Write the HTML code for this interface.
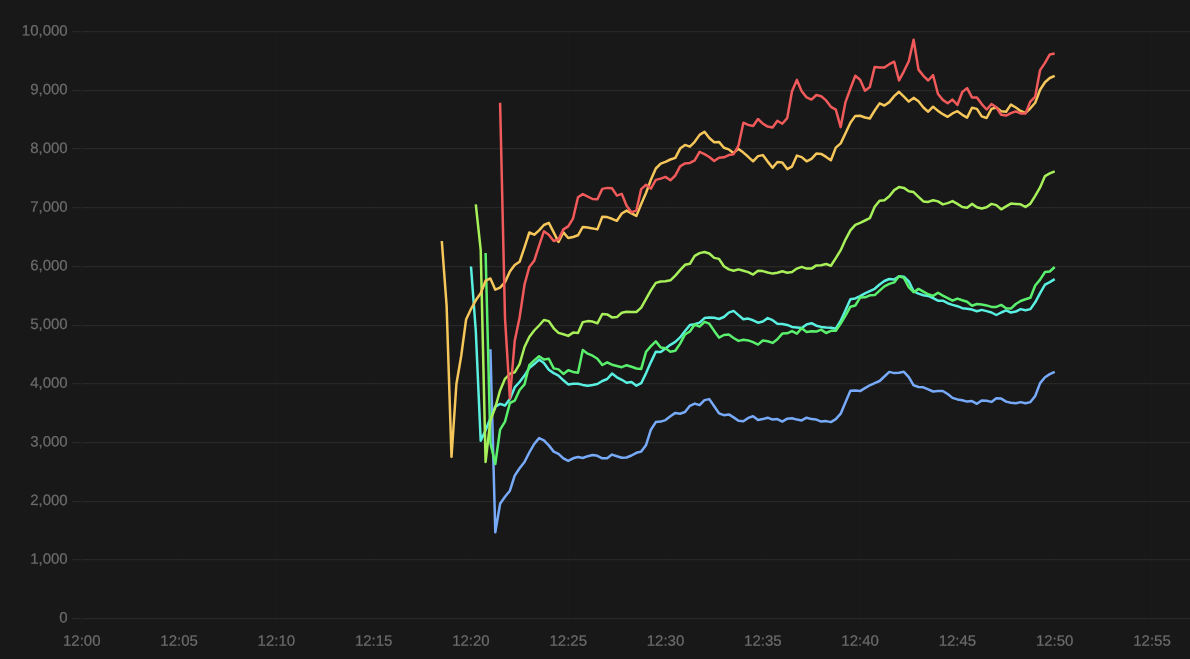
<!DOCTYPE html>
<html lang="en"><head><meta charset="utf-8"><title>Chart</title>
<style>html,body{margin:0;padding:0;background:#181818;overflow:hidden}svg{display:block}text{font-family:"Liberation Sans",Arial,Helvetica,sans-serif;font-size:15px;fill:#6c6c6c;stroke:#6c6c6c;stroke-width:0.22px;text-rendering:geometricPrecision}.s{fill:none;stroke-width:2.5;stroke-linejoin:round;stroke-linecap:butt}</style></head><body>
<svg width="1190" height="659" viewBox="0 0 1190 659">
<rect width="1190" height="659" fill="#181818"/>
<g fill="#1a1a1a">
<rect x="178" y="31" width="1.25" height="597.25"/>
<rect x="276" y="31" width="1.25" height="597.25"/>
<rect x="373" y="31" width="1.25" height="597.25"/>
<rect x="470" y="31" width="1.25" height="597.25"/>
<rect x="568" y="31" width="1.25" height="597.25"/>
<rect x="665" y="31" width="1.25" height="597.25"/>
<rect x="762" y="31" width="1.25" height="597.25"/>
<rect x="859" y="31" width="1.25" height="597.25"/>
<rect x="957" y="31" width="1.25" height="597.25"/>
<rect x="1054" y="31" width="1.25" height="597.25"/>
<rect x="1151" y="31" width="1.25" height="597.25"/>
</g>
<g fill="#282828">
<rect x="72" y="31" width="1118" height="1.2"/>
<rect x="72" y="90" width="1118" height="1.2"/>
<rect x="72" y="148" width="1118" height="1.2"/>
<rect x="72" y="207" width="1118" height="1.2"/>
<rect x="72" y="266" width="1118" height="1.2"/>
<rect x="72" y="325" width="1118" height="1.2"/>
<rect x="72" y="383" width="1118" height="1.2"/>
<rect x="72" y="442" width="1118" height="1.2"/>
<rect x="72" y="501" width="1118" height="1.2"/>
<rect x="72" y="559" width="1118" height="1.2"/>
<rect x="72" y="618" width="1118" height="1.2"/>
</g>
<rect x="81" y="31" width="1.25" height="597.25" fill="#1a1a1a"/>
<g fill="#161616">
<rect x="81" y="31" width="1" height="1.25"/>
<rect x="81" y="90" width="1" height="1.25"/>
<rect x="81" y="148" width="1" height="1.25"/>
<rect x="81" y="207" width="1" height="1.25"/>
<rect x="81" y="266" width="1" height="1.25"/>
<rect x="81" y="325" width="1" height="1.25"/>
<rect x="81" y="383" width="1" height="1.25"/>
<rect x="81" y="442" width="1" height="1.25"/>
<rect x="81" y="501" width="1" height="1.25"/>
<rect x="81" y="559" width="1" height="1.25"/>
<rect x="81" y="618" width="1" height="1.25"/>
</g>
<g text-anchor="end">
<text x="67.70" y="35.65" transform="rotate(0.1 67.70 35.65)">10,000</text>
<text x="67.70" y="94.34" transform="rotate(0.1 67.70 94.34)">9,000</text>
<text x="67.70" y="153.03" transform="rotate(0.1 67.70 153.03)">8,000</text>
<text x="67.70" y="211.72" transform="rotate(0.1 67.70 211.72)">7,000</text>
<text x="67.70" y="270.41" transform="rotate(0.1 67.70 270.41)">6,000</text>
<text x="67.70" y="329.10" transform="rotate(0.1 67.70 329.10)">5,000</text>
<text x="67.70" y="387.79" transform="rotate(0.1 67.70 387.79)">4,000</text>
<text x="67.70" y="446.48" transform="rotate(0.1 67.70 446.48)">3,000</text>
<text x="67.70" y="505.17" transform="rotate(0.1 67.70 505.17)">2,000</text>
<text x="67.70" y="563.86" transform="rotate(0.1 67.70 563.86)">1,000</text>
<text x="67.70" y="622.55" transform="rotate(0.1 67.70 622.55)">0</text>
</g>
<g text-anchor="middle">
<text x="81.80" y="645.70" transform="rotate(0.1 81.80 645.70)">12:00</text>
<text x="179.09" y="645.70" transform="rotate(0.1 179.09 645.70)">12:05</text>
<text x="276.38" y="645.70" transform="rotate(0.1 276.38 645.70)">12:10</text>
<text x="373.67" y="645.70" transform="rotate(0.1 373.67 645.70)">12:15</text>
<text x="470.96" y="645.70" transform="rotate(0.1 470.96 645.70)">12:20</text>
<text x="568.25" y="645.70" transform="rotate(0.1 568.25 645.70)">12:25</text>
<text x="665.54" y="645.70" transform="rotate(0.1 665.54 645.70)">12:30</text>
<text x="762.83" y="645.70" transform="rotate(0.1 762.83 645.70)">12:35</text>
<text x="860.12" y="645.70" transform="rotate(0.1 860.12 645.70)">12:40</text>
<text x="957.41" y="645.70" transform="rotate(0.1 957.41 645.70)">12:45</text>
<text x="1054.70" y="645.70" transform="rotate(0.1 1054.70 645.70)">12:50</text>
<text x="1151.99" y="645.70" transform="rotate(0.1 1151.99 645.70)">12:55</text>
</g>
<polyline class="s" stroke="#78aafa" points="490.4,349.3 495.3,532.3 500.1,503.8 505.0,496.8 509.9,490.7 514.7,475.6 519.6,468.2 524.5,462.0 529.3,452.5 534.2,444.0 539.1,438.1 543.9,440.3 548.8,445.4 553.7,451.6 558.5,453.8 563.4,458.3 568.2,460.9 573.1,458.3 578.0,457.0 582.8,458.0 587.7,456.2 592.6,455.0 597.4,455.8 602.3,458.3 607.2,458.3 612.0,454.6 616.9,456.3 621.8,457.8 626.6,457.5 631.5,455.5 636.4,452.8 641.2,451.6 646.1,444.9 650.9,429.7 655.8,422.1 660.7,421.6 665.5,420.1 670.4,416.2 675.3,412.9 680.1,413.7 685.0,412.0 689.9,405.8 694.7,403.6 699.6,405.1 704.5,400.1 709.3,399.1 714.2,406.3 719.0,413.3 723.9,415.2 728.8,414.4 733.6,417.4 738.5,420.8 743.4,421.3 748.2,417.9 753.1,416.2 758.0,419.9 762.8,419.1 767.7,417.7 772.6,419.6 777.4,419.1 782.3,421.6 787.2,418.7 792.0,418.2 796.9,419.6 801.7,420.4 806.6,417.7 811.5,419.1 816.3,419.6 821.2,421.6 826.1,421.1 830.9,422.1 835.8,419.1 840.7,413.7 845.5,402.2 850.4,390.8 855.3,390.4 860.1,391.1 865.0,388.2 869.8,385.3 874.7,383.2 879.6,381.0 884.4,376.5 889.3,371.9 894.2,373.1 899.0,372.7 903.9,371.8 908.8,377.2 913.6,385.3 918.5,387.0 923.4,387.3 928.2,389.3 933.1,391.5 938.0,391.0 942.8,391.0 947.7,394.0 952.5,397.9 957.4,399.4 962.3,400.3 967.1,401.6 972.0,401.1 976.9,403.8 981.7,400.4 986.6,400.8 991.5,401.9 996.3,398.2 1001.2,398.6 1006.1,401.6 1010.9,402.8 1015.8,403.3 1020.6,402.1 1025.5,403.3 1030.4,402.1 1035.2,396.0 1040.1,383.1 1045.0,377.2 1049.8,374.1 1054.7,371.8"/>
<polyline class="s" stroke="#5af0e1" points="471.0,266.5 475.8,331.0 480.7,440.7 485.6,430.3 490.4,418.2 495.3,406.6 500.1,403.9 505.0,405.5 509.9,399.0 514.7,387.4 519.6,382.0 524.5,375.6 529.3,368.0 534.2,364.1 539.1,359.6 543.9,363.0 548.8,369.7 553.7,373.1 558.5,375.6 563.4,380.3 568.2,384.4 573.1,383.7 578.0,383.7 582.8,384.9 587.7,385.7 592.6,384.9 597.4,384.0 602.3,381.0 607.2,379.0 612.0,373.6 616.9,377.3 621.8,379.8 626.6,382.8 631.5,382.0 636.4,385.7 641.2,383.2 646.1,373.1 650.9,362.1 655.8,351.7 660.7,352.0 665.5,348.6 670.4,344.8 675.3,341.9 680.1,337.4 685.0,331.0 689.9,325.1 694.7,324.2 699.6,322.6 704.5,318.1 709.3,317.6 714.2,317.8 719.0,319.0 723.9,317.0 728.8,312.6 733.6,310.9 738.5,315.1 743.4,319.3 748.2,318.6 753.1,320.3 758.0,322.7 762.8,321.5 767.7,318.1 772.6,320.2 777.4,323.7 782.3,324.0 787.2,324.9 792.0,326.9 796.9,327.4 801.7,327.9 806.6,324.4 811.5,323.2 816.3,325.7 821.2,326.9 826.1,327.4 830.9,327.7 835.8,328.7 840.7,320.7 845.5,310.2 850.4,299.3 855.3,298.4 860.1,296.2 865.0,293.3 869.8,291.1 874.7,288.8 879.6,284.5 884.4,281.0 889.3,279.0 894.2,279.5 899.0,276.3 903.9,276.7 908.8,281.3 913.6,291.4 918.5,293.6 923.4,295.3 928.2,295.9 933.1,298.1 938.0,300.7 942.8,300.7 947.7,303.2 952.5,304.9 957.4,306.2 962.3,308.2 967.1,308.7 972.0,309.6 976.9,311.3 981.7,309.9 986.6,311.1 991.5,312.5 996.3,315.0 1001.2,312.5 1006.1,310.4 1010.9,312.5 1015.8,311.6 1020.6,309.1 1025.5,310.3 1030.4,309.1 1035.2,302.3 1040.1,293.1 1045.0,284.7 1049.8,282.1 1054.7,279.1"/>
<polyline class="s" stroke="#5af06e" points="485.6,253.0 490.4,443.0 495.3,464.0 500.1,429.7 505.0,421.7 509.9,403.0 514.7,400.7 519.6,390.0 524.5,384.4 529.3,365.2 534.2,360.4 539.1,356.2 543.9,359.6 548.8,358.8 553.7,368.4 558.5,369.4 563.4,373.9 568.2,370.2 573.1,371.9 578.0,372.7 582.8,350.0 587.7,353.7 592.6,355.7 597.4,358.8 602.3,365.0 607.2,362.3 612.0,364.7 616.9,366.0 621.8,367.2 626.6,365.2 631.5,366.8 636.4,368.5 641.2,368.9 646.1,351.7 650.9,346.1 655.8,341.4 660.7,347.5 665.5,348.3 670.4,351.7 675.3,350.8 680.1,343.6 685.0,334.3 689.9,331.5 694.7,324.5 699.6,326.6 704.5,321.8 709.3,323.7 714.2,330.9 719.0,337.6 723.9,335.0 728.8,334.5 733.6,338.0 738.5,340.9 743.4,339.7 748.2,340.4 753.1,342.2 758.0,344.6 762.8,340.5 767.7,341.2 772.6,342.9 777.4,339.2 782.3,333.6 787.2,333.3 792.0,331.1 796.9,333.6 801.7,328.2 806.6,331.9 811.5,331.3 816.3,331.6 821.2,329.6 826.1,333.0 830.9,330.8 835.8,330.8 840.7,323.5 845.5,315.6 850.4,306.7 855.3,305.5 860.1,297.6 865.0,297.3 869.8,295.3 874.7,295.1 879.6,290.6 884.4,286.4 889.3,283.9 894.2,282.4 899.0,276.3 903.9,277.9 908.8,287.2 913.6,292.2 918.5,288.9 923.4,291.7 928.2,294.3 933.1,295.9 938.0,292.7 942.8,295.6 947.7,298.1 952.5,300.7 957.4,298.6 962.3,300.3 967.1,301.8 972.0,305.7 976.9,304.0 981.7,304.5 986.6,305.4 991.5,306.9 996.3,306.9 1001.2,304.9 1006.1,308.2 1010.9,308.6 1015.8,304.0 1020.6,301.0 1025.5,299.3 1030.4,297.8 1035.2,285.5 1040.1,279.6 1045.0,272.0 1049.8,271.5 1054.7,267.0"/>
<polyline class="s" stroke="#a8f05a" points="475.8,204.4 480.7,249.8 485.6,461.9 490.4,420.2 495.3,407.5 500.1,390.4 505.0,378.8 509.9,373.8 514.7,372.3 519.6,364.2 524.5,347.0 529.3,337.0 534.2,330.5 539.1,325.5 543.9,320.0 548.8,321.1 553.7,328.3 558.5,332.9 563.4,334.2 568.2,335.9 573.1,332.6 578.0,332.9 582.8,322.1 587.7,321.1 592.6,321.6 597.4,323.3 602.3,314.0 607.2,314.4 612.0,317.4 616.9,317.1 621.8,312.8 626.6,311.8 631.5,312.0 636.4,312.0 641.2,307.6 646.1,298.9 650.9,290.4 655.8,282.9 660.7,281.5 665.5,281.2 670.4,280.3 675.3,275.6 680.1,270.2 685.0,264.8 689.9,263.8 694.7,255.9 699.6,253.1 704.5,252.0 709.3,253.5 714.2,257.9 719.0,258.9 723.9,266.2 728.8,269.4 733.6,270.8 738.5,269.4 743.4,270.8 748.2,272.1 753.1,274.6 758.0,270.8 762.8,271.1 767.7,272.5 772.6,273.6 777.4,272.8 782.3,271.3 787.2,272.8 792.0,272.1 796.9,268.6 801.7,266.9 806.6,268.6 811.5,268.6 816.3,265.4 821.2,265.2 826.1,264.0 830.9,265.7 835.8,258.1 840.7,250.2 845.5,239.6 850.4,230.3 855.3,224.9 860.1,222.8 865.0,220.5 869.8,218.2 874.7,206.8 879.6,200.7 884.4,200.2 889.3,196.3 894.2,190.1 899.0,187.1 903.9,187.9 908.8,191.3 913.6,192.1 918.5,196.8 923.4,201.4 928.2,201.9 933.1,200.2 938.0,201.4 942.8,204.4 947.7,203.1 952.5,201.1 957.4,203.9 962.3,207.0 967.1,207.8 972.0,203.9 976.9,207.3 981.7,208.5 986.6,207.3 991.5,203.9 996.3,205.1 1001.2,209.3 1006.1,206.4 1010.9,203.6 1015.8,203.9 1020.6,204.3 1025.5,207.0 1030.4,203.6 1035.2,195.8 1040.1,187.4 1045.0,176.1 1049.8,173.3 1054.7,171.4"/>
<polyline class="s" stroke="#f5c65a" points="441.8,241.0 446.6,305.4 451.5,456.8 456.4,384.0 461.2,356.0 466.1,319.5 471.0,309.0 475.8,300.3 480.7,293.3 485.6,280.7 490.4,278.5 495.3,289.7 500.1,287.7 505.0,282.2 509.9,271.5 514.7,265.0 519.6,261.8 524.5,247.3 529.3,232.5 534.2,234.7 539.1,230.4 543.9,225.0 548.8,222.9 553.7,232.4 558.5,242.0 563.4,232.4 568.2,238.0 573.1,237.0 578.0,235.3 582.8,226.9 587.7,227.6 592.6,228.4 597.4,229.4 602.3,216.8 607.2,217.1 612.0,218.8 616.9,220.8 621.8,213.5 626.6,210.6 631.5,213.4 636.4,215.9 641.2,204.0 646.1,192.7 650.9,179.8 655.8,168.5 660.7,163.6 665.5,161.8 670.4,159.5 675.3,157.9 680.1,148.6 685.0,144.9 689.9,146.6 694.7,141.8 699.6,134.9 704.5,131.7 709.3,138.0 714.2,142.2 719.0,141.9 723.9,147.8 728.8,149.4 733.6,152.9 738.5,148.9 743.4,152.6 748.2,156.8 753.1,161.3 758.0,156.1 762.8,155.1 767.7,161.6 772.6,167.7 777.4,162.0 782.3,162.4 787.2,169.1 792.0,166.6 796.9,155.6 801.7,157.1 806.6,161.3 811.5,158.8 816.3,153.6 821.2,153.9 826.1,156.9 830.9,160.3 835.8,147.6 840.7,143.4 845.5,133.3 850.4,122.8 855.3,115.9 860.1,115.8 865.0,117.5 869.8,118.5 874.7,110.5 879.6,103.4 884.4,105.5 889.3,102.1 894.2,96.1 899.0,91.8 903.9,96.6 908.8,101.6 913.6,97.9 918.5,101.3 923.4,107.5 928.2,111.7 933.1,106.7 938.0,110.9 942.8,114.2 947.7,116.8 952.5,113.4 957.4,111.2 962.3,114.8 967.1,117.6 972.0,107.8 976.9,108.9 981.7,116.4 986.6,118.0 991.5,108.9 996.3,107.5 1001.2,111.2 1006.1,111.7 1010.9,104.6 1015.8,107.5 1020.6,110.9 1025.5,112.9 1030.4,108.3 1035.2,102.8 1040.1,89.8 1045.0,82.2 1049.8,78.0 1054.7,75.8"/>
<polyline class="s" stroke="#f05a5a" points="500.1,102.8 505.0,318.0 509.9,398.5 514.7,341.0 519.6,317.5 524.5,284.7 529.3,267.0 534.2,260.8 539.1,245.6 543.9,231.3 548.8,234.7 553.7,241.0 558.5,239.5 563.4,229.4 568.2,226.4 573.1,218.3 578.0,197.3 582.8,194.1 587.7,196.6 592.6,199.0 597.4,199.2 602.3,188.9 607.2,187.9 612.0,188.3 616.9,195.6 621.8,193.9 626.6,205.7 631.5,212.3 636.4,210.3 641.2,189.1 646.1,184.8 650.9,188.6 655.8,179.9 660.7,178.6 665.5,176.9 670.4,180.3 675.3,175.5 680.1,166.3 685.0,163.4 689.9,162.9 694.7,160.4 699.6,151.9 704.5,154.2 709.3,157.0 714.2,161.0 719.0,157.8 723.9,157.3 728.8,155.1 733.6,154.2 738.5,145.6 743.4,122.7 748.2,124.9 753.1,126.0 758.0,119.0 762.8,123.7 767.7,126.6 772.6,127.4 777.4,120.7 782.3,123.7 787.2,118.1 792.0,91.2 796.9,79.9 801.7,91.2 806.6,97.4 811.5,99.6 816.3,95.0 821.2,96.2 826.1,100.4 830.9,106.8 835.8,109.7 840.7,127.1 845.5,102.1 850.4,88.6 855.3,75.7 860.1,79.8 865.0,90.7 869.8,87.1 874.7,66.9 879.6,67.5 884.4,67.5 889.3,64.2 894.2,61.7 899.0,80.4 903.9,71.3 908.8,61.2 913.6,39.8 918.5,69.6 923.4,75.8 928.2,80.5 933.1,75.2 938.0,94.0 942.8,99.9 947.7,103.3 952.5,99.6 957.4,105.0 962.3,92.0 967.1,88.1 972.0,97.4 976.9,97.4 981.7,104.1 986.6,109.5 991.5,104.1 996.3,107.2 1001.2,114.8 1006.1,115.6 1010.9,113.1 1015.8,111.4 1020.6,113.4 1025.5,113.4 1030.4,101.6 1035.2,96.6 1040.1,70.1 1045.0,62.9 1049.8,54.4 1054.7,53.6"/>
</svg></body></html>
